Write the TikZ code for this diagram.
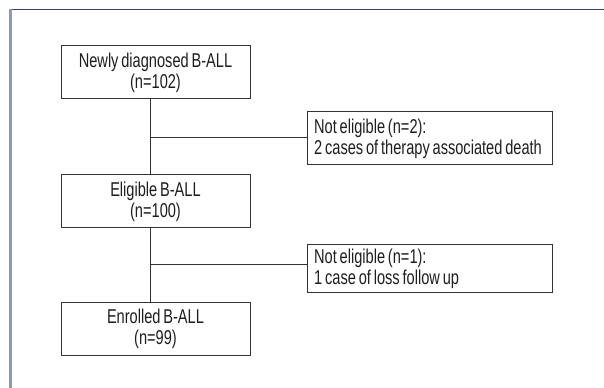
\documentclass[tikz,border=0pt]{standalone}
\usepackage{fontspec}
\setmainfont{Liberation Sans}[FakeStretch=0.73, WordSpace=0.7]
\usepackage{xcolor}
\usetikzlibrary{calc,positioning}
\definecolor{boxline}{HTML}{333333}
\definecolor{textgrey}{HTML}{1E1E1E}
\definecolor{frametop}{HTML}{34476E}
\definecolor{frameside}{HTML}{8A9BB5}
\tikzset{
  flowbox/.style  = {draw=boxline, line width=0.75pt, align=center,
                     text=textgrey, inner sep=0pt,
                     minimum width=141.75pt, minimum height=39.75pt,
                     font=\fontsize{15}{16}\selectfont},
  sidebox/.style  = {flowbox, align=flush left, text width=173pt,
                     inner xsep=5.375pt, minimum width=183.75pt},
  link/.style     = {draw=boxline, line width=0.75pt},
}

\begin{document}
\begin{tikzpicture}[x=0.75pt, y=-0.75pt]

    \useasboundingbox (0,0) rectangle (604,388);

    % ---------- open frame ------------------------------------------------
    \draw[frametop, line width=1pt] (10,9.5) -- (604,9.5);
    \draw[frameside, line width=1.6pt] (10.5,9.5) -- (10.5,388);

    % ---------- positions -------------------------------------------------
    \coordinate (new)   at (155.5,72.5);
    \coordinate (elig)  at (155.5,201.5);
    \coordinate (enrl)  at (155.5,329);
    \coordinate (excla) at (429.5,138.5);
    \coordinate (exclb) at (429.5,269);
    \coordinate (spine) at (150,0);

    % ---------- main column -----------------------------------------------
    \node[flowbox] (newbox)  at (new)  {Newly diagnosed B-ALL\\(n=102)};
    \node[flowbox] (eligbox) at (elig) {Eligible B-ALL\\(n=100)};
    \node[flowbox] (enrlbox) at (enrl) {Enrolled B-ALL\\(n=99)};

    % ---------- exclusions ------------------------------------------------
    \node[sidebox] (exclabox) at (excla)
      {Not eligible (n=2):\\2 cases of therapy associated death};
    \node[sidebox, minimum height=36pt] (exclbbox) at (exclb)
      {Not eligible (n=1):\\1 case of loss follow up};

    % ---------- connectors ------------------------------------------------
    \draw[link] (newbox.south -| spine) -- (eligbox.north -| spine);
    \draw[link] (eligbox.south -| spine) -- (enrlbox.north -| spine);
    \draw[link] (exclabox.west |- 0,138) -- (spine |- 0,138);
    \draw[link] (exclbbox.west |- 0,265) -- (spine |- 0,265);

\end{tikzpicture}
\end{document}
